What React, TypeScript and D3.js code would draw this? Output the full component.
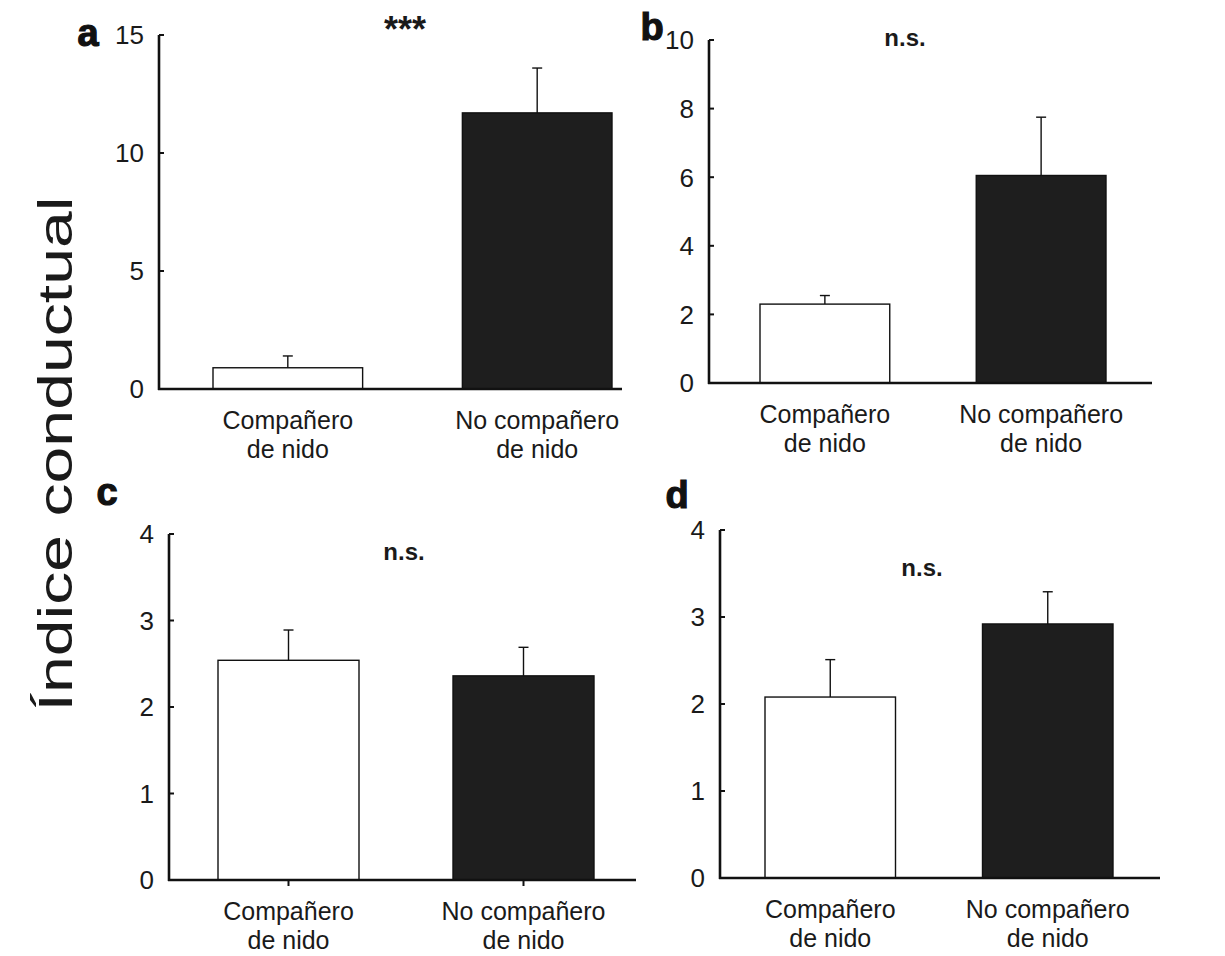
import React from 'react'
import * as d3 from 'd3'

// categories + values
const groups = ['Compañero de nido', 'No compañero de nido']
const groupLines = [['Compañero', 'de nido'], ['No compañero', 'de nido']]

const meansA = [0.9, 11.7]
const semA = [0.5, 1.9]
const meansB = [2.3, 6.05]
const semB = [0.25, 1.7]
const meansC = [2.54, 2.36]
const semC = [0.35, 0.33]
const meansD = [2.08, 2.92]
const semD = [0.43, 0.37]

const ticksA = [0, 5, 10, 15]
const ticksB = [0, 2, 4, 6, 8, 10]
const ticksC = [0, 1, 2, 3, 4]
const ticksD = [0, 1, 2, 3, 4]

const signifA = '***'
const signifB = 'n.s.'
const signifC = 'n.s.'
const signifD = 'n.s.'

const yTitle = 'Índice conductual'

const FONT = '"Liberation Sans", Arial, sans-serif'
const fills = ['#ffffff', '#1e1e1e']

// layout of the four panels (pixels)
const panels = [
  { tag: 'a', means: meansA, sem: semA, ticks: ticksA, sig: signifA,
    x0: 159, x1: 622, yBottom: 389, yTop: 35, bars: [213, 612],
    tagPos: [88, 46], sigPos: [405, 42], sigSize: 36, xTicks: false },
  { tag: 'b', means: meansB, sem: semB, ticks: ticksB, sig: signifB,
    x0: 709, x1: 1152, yBottom: 383, yTop: 40, bars: [760, 1106],
    tagPos: [652, 40], sigPos: [905, 46], sigSize: 24, xTicks: false },
  { tag: 'c', means: meansC, sem: semC, ticks: ticksC, sig: signifC,
    x0: 169, x1: 636, yBottom: 880, yTop: 534, bars: [218, 594],
    tagPos: [107, 505], sigPos: [404, 560], sigSize: 24, xTicks: true },
  { tag: 'd', means: meansD, sem: semD, ticks: ticksD, sig: signifD,
    x0: 720, x1: 1160, yBottom: 878, yTop: 530, bars: [765, 1113],
    tagPos: [677, 508], sigPos: [922, 576], sigSize: 24, xTicks: false },
]

function Panel ({ p }) {
  const y = d3.scaleLinear()
    .domain([0, d3.max(p.ticks)])
    .range([p.yBottom, p.yTop])
  const x = d3.scaleBand()
    .domain(groups)
    .range(p.bars)
    .paddingInner(0.4)
  const bw = x.bandwidth()
  return (
    <g>
      {/* bars */}
      {groups.map((g, i) => (
        <rect key={g} x={x(g)} y={y(p.means[i])} width={bw}
          height={y(0) - y(p.means[i])}
          fill={fills[i]} stroke="#111" strokeWidth={1.4} />
      ))}
      {/* upper error bars */}
      {groups.map((g, i) => {
        const cx = x(g) + bw / 2
        const top = y(p.means[i] + p.sem[i])
        return (
          <g key={g + '-err'} stroke="#111" strokeWidth={1.4}>
            <line x1={cx} x2={cx} y1={y(p.means[i])} y2={top} />
            <line x1={cx - 5} x2={cx + 5} y1={top} y2={top} />
          </g>
        )
      })}
      {/* axes */}
      <line x1={p.x0} x2={p.x0} y1={p.yBottom + 1} y2={p.yTop}
        stroke="#111" strokeWidth={2.6} />
      <line x1={p.x0 - 1} x2={p.x1} y1={p.yBottom} y2={p.yBottom}
        stroke="#111" strokeWidth={2.6} />
      {p.ticks.map(t => (
        <g key={t}>
          <line x1={p.x0} x2={p.x0 + 5} y1={y(t)} y2={y(t)}
            stroke="#111" strokeWidth={2} />
          <text x={p.x0 - 15} y={y(t)} dy="0.36em" textAnchor="end"
            fontSize={26} fontFamily={FONT} fill="#1a1a1a">{t}</text>
        </g>
      ))}
      {p.xTicks && groups.map(g => (
        <line key={g + '-xt'} x1={x(g) + bw / 2} x2={x(g) + bw / 2}
          y1={p.yBottom} y2={p.yBottom + 6} stroke="#111" strokeWidth={2} />
      ))}
      {/* category labels, two lines each */}
      {groups.map((g, i) => (
        <g key={g + '-lab'}>
          <text x={x(g) + bw / 2} y={p.yBottom + 40}
            textAnchor="middle" fontSize={25} fontFamily={FONT} fill="#1a1a1a">
            {groupLines[i][0]}
          </text>
          <text x={x(g) + bw / 2} y={p.yBottom + 69}
            textAnchor="middle" fontSize={25} fontFamily={FONT} fill="#1a1a1a">
            {groupLines[i][1]}
          </text>
        </g>
      ))}
      <text x={p.sigPos[0]} y={p.sigPos[1]} textAnchor="middle"
        fontSize={p.sigSize} fontWeight="bold" fontFamily={FONT} fill="#1a1a1a">{p.sig}</text>
      <text x={p.tagPos[0]} y={p.tagPos[1]} textAnchor="middle"
        fontSize={38} fontWeight="bold" fontFamily={FONT} fill="#111"
        stroke="#111" strokeWidth={1.2}>{p.tag}</text>
    </g>
  )
}

export default function App () {
  const width = 1225
  const height = 956
  return (
    <svg width={width} height={height} viewBox={`0 0 ${width} ${height}`}
      style={{ position: 'absolute', left: 0, top: 0, background: '#fff' }}>
      <rect width={width} height={height} fill="#fff" />
      {panels.map(p => <Panel key={p.tag} p={p} />)}
      <text transform="translate(72, 454) rotate(-90)" textAnchor="middle"
        fontSize={48} fontFamily={FONT} fill="#1a1a1a"
        textLength={515} lengthAdjust="spacingAndGlyphs">{yTitle}</text>
    </svg>
  )
}
